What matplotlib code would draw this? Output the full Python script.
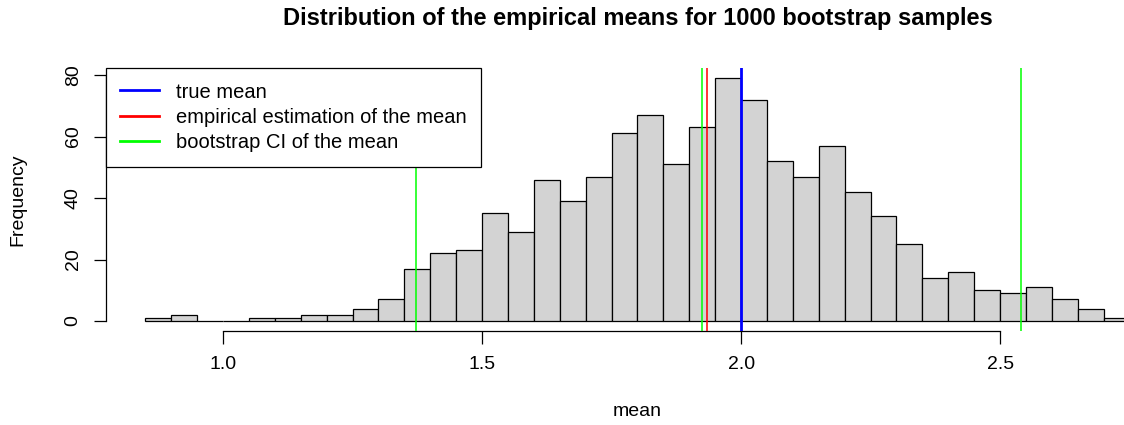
"""Histogram of bootstrap means with true / empirical mean and bootstrap CI lines."""

import matplotlib

matplotlib.use("Agg")
import matplotlib.pyplot as plt
from matplotlib.lines import Line2D

plt.rcParams["font.family"] = ["Liberation Sans", "DejaVu Sans"]

# histogram bins (width 0.05) and counts
bin_left = [0.85, 0.90, 0.95, 1.00, 1.05, 1.10, 1.15, 1.20, 1.25, 1.30,
            1.35, 1.40, 1.45, 1.50, 1.55, 1.60, 1.65, 1.70, 1.75, 1.80,
            1.85, 1.90, 1.95, 2.00, 2.05, 2.10, 2.15, 2.20, 2.25, 2.30,
            2.35, 2.40, 2.45, 2.50, 2.55, 2.60, 2.65, 2.70]
counts = [1, 2, 0, 0, 1, 1, 2, 2, 4, 7,
          17, 22, 23, 35, 29, 46, 39, 47, 61, 67,
          51, 63, 79, 72, 52, 47, 57, 42, 34, 25,
          14, 16, 10, 9, 11, 7, 4, 1]
bin_width = 0.05

true_mean = 2.0
empirical_mean = 1.935
ci_bounds = [1.372, 1.925, 2.540]

x_ticks = [1.0, 1.5, 2.0, 2.5]
y_ticks = [0, 20, 40, 60, 80]
legend_labels = ["true mean", "empirical estimation of the mean", "bootstrap CI of the mean"]
legend_colors = ["blue", "red", "#00FF00"]

FS = 14


def main() -> None:
    fig = plt.figure(figsize=(11.24, 4.25), dpi=100)
    ax = fig.add_axes([0.0943, 0.2219, 0.9457, 0.6171])

    ax.bar(bin_left, counts, width=bin_width, align="edge",
           color="#D3D3D3", edgecolor="black", linewidth=0.9, zorder=2)

    for x in ci_bounds:
        ax.axvline(x, color="#00FF00", lw=1.1, zorder=3)
    ax.axvline(empirical_mean, color="red", lw=1.1, zorder=3)
    ax.axvline(true_mean, color="blue", lw=2.0, zorder=4)

    ax.set_xlim(0.774, 2.826)
    ax.set_ylim(-3.16, 82.16)

    for side in ("top", "right"):
        ax.spines[side].set_visible(False)
    ax.spines["left"].set_bounds(0, 80)
    ax.spines["bottom"].set_bounds(1.0, 2.5)
    ax.spines["left"].set_linewidth(0.9)
    ax.spines["bottom"].set_linewidth(0.9)

    ax.set_xticks(x_ticks)
    ax.set_xticklabels([f"{t:.1f}" for t in x_ticks])
    ax.set_yticks(y_ticks)
    ax.set_yticklabels([str(t) for t in y_ticks])
    ax.tick_params(axis="both", length=9, width=0.9, labelsize=FS)
    ax.tick_params(axis="x", pad=9)
    ax.tick_params(axis="y", pad=8.5, labelrotation=90)
    for lab in ax.get_yticklabels():
        lab.set_va("center")

    ax.set_xlabel("mean", fontsize=FS)
    ax.xaxis.set_label_coords(0.5, -0.31)
    ax.xaxis.label.set_va("center")
    ax.set_ylabel("Frequency", fontsize=FS)
    ax.yaxis.set_label_coords(-0.0828, 0.5)
    ax.yaxis.label.set_va("center")

    fig.text(0.5676, 1 - 19 / 425, "Distribution of the empirical means for 1000 bootstrap samples",
             ha="center", va="center", fontsize=17, fontweight="bold")

    handles = [Line2D([0], [0], color=c, lw=2) for c in legend_colors]
    leg = ax.legend(handles, legend_labels, loc="upper left", bbox_to_anchor=(0, 1),
                    borderaxespad=0, fancybox=False, framealpha=1, edgecolor="black",
                    fontsize=14.5, handlelength=1.93, handletextpad=0.84,
                    labelspacing=0.32, borderpad=0.7)
    leg.get_frame().set_linewidth(0.9)
    leg.set_zorder(5)

    fig.savefig("out.png", dpi=100)
    plt.close(fig)


if __name__ == "__main__":
    main()
